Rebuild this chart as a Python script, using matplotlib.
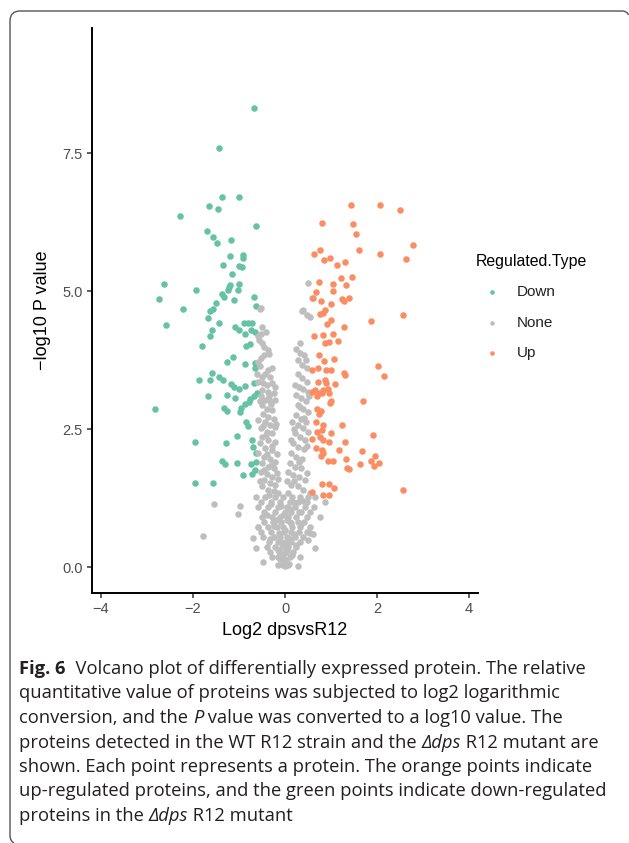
import matplotlib
matplotlib.use("Agg")
import matplotlib.pyplot as plt
from matplotlib.path import Path
from matplotlib.patches import PathPatch

# ---------------- data ----------------
categories = ["Down", "None", "Up"]
colors = {"Down": "#66C2A5", "None": "#BEBEBE", "Up": "#FC8D62"}

down_x = [-0.67, -1.43, -1.36, -1.01, -1.65, -1.46, -2.28, -0.62, -1.69, -1.56, -1.47, -1.18, -1.20,
          -0.92, -0.92, -1.35, -1.01, -0.94, -1.15, -2.63, -1.94, -1.20, -1.21, -1.01, -1.02, -1.24,
          -2.75, -1.37, -1.33, -1.11, -0.68, -0.63, -2.21, -1.51, -1.57, -1.62, -1.67, -2.58, -1.43,
          -1.58, -1.62, -1.09, -1.00, -0.89, -0.80, -0.71, -0.86, -0.74, -0.65,
          -1.80, -0.85, -0.76, -1.27, -1.12, -0.88, -0.65, -0.65, -1.87, -1.62, -1.59, -1.44, -1.35,
          -1.17, -1.10, -1.01, -0.88, -0.68, -1.67, -1.26, -1.09, -0.76, -0.79, -0.88, -0.95, -0.98,
          -0.67, -0.60, -2.82, -1.32, -1.27, -0.84, -0.80, -1.95, -1.28, -1.04, -0.72, -0.70, -0.62,
          -0.62, -1.38, -1.30, -1.04, -0.74, -0.65, -0.72, -0.91, -1.95, -1.57]
down_y = [8.31, 7.60, 6.71, 6.70, 6.54, 6.49, 6.36, 6.17, 6.09, 5.97, 5.87, 5.93, 5.64,
          5.65, 5.60, 5.47, 5.45, 5.43, 5.30, 5.13, 5.01, 5.11, 5.07, 5.13, 5.01, 5.02,
          4.86, 4.94, 4.90, 4.83, 4.90, 4.73, 4.67, 4.79, 4.67, 4.63, 4.51, 4.38, 4.42,
          4.30, 4.18, 4.35, 4.29, 4.43, 4.43, 4.42, 4.23, 4.29, 4.25,
          4.01, 4.01, 4.04, 3.71, 3.80, 3.68, 3.70, 3.61, 3.38, 3.39, 3.51, 3.44, 3.39,
          3.31, 3.27, 3.22, 3.28, 3.33, 3.10, 3.12, 3.07, 3.04, 2.99, 2.95, 2.89, 2.80,
          3.10, 3.16, 2.87, 2.89, 2.83, 2.62, 2.55, 2.26, 2.25, 2.38, 2.30, 2.18, 2.07,
          1.91, 1.92, 1.87, 1.88, 1.87, 1.75, 1.69, 1.66, 1.52, 1.53]

up_x = [1.43, 2.07, 2.51, 0.80, 1.47, 1.54, 2.78, 1.60, 0.62, 0.77, 2.06, 2.64, 0.84, 0.98,
        1.13, 1.30, 1.22, 1.46, 0.75, 1.05, 1.04, 1.33, 0.67, 0.61, 0.78, 1.00, 1.25, 1.28,
        1.39, 0.87, 0.83, 0.76, 1.01, 0.91, 1.88, 2.56, 1.28, 0.62, 0.83, 1.04, 0.88, 0.95,
        1.16, 0.74, 1.06, 0.84, 2.03, 2.15, 0.59, 0.71, 0.89, 1.00, 1.29, 1.31, 0.71, 0.88,
        0.89, 1.09, 0.59, 0.65, 0.73, 0.83, 0.93, 0.80, 0.69, 0.96, 1.01, 0.98, 1.70, 0.70,
        0.78, 0.75, 0.67, 0.83, 0.80, 0.70, 1.25, 1.00, 1.91, 0.59, 0.76, 0.83, 0.96, 1.30,
        0.67, 0.80, 0.83, 0.78, 1.18, 1.67, 1.96, 1.88, 2.05, 1.93, 0.93, 1.05, 1.33, 1.63,
        1.34, 1.40, 0.80, 0.96, 1.06, 0.59, 0.83, 0.96, 2.57]
up_y = [6.56, 6.56, 6.47, 6.24, 6.21, 6.04, 5.83, 5.75, 5.68, 5.74, 5.67, 5.58, 5.57, 5.60,
        5.48, 5.52, 5.24, 5.25, 5.17, 5.12, 5.00, 5.11, 4.99, 4.88, 4.82, 4.77, 4.86, 4.82,
        4.87, 4.66, 4.61, 4.59, 4.47, 4.41, 4.46, 4.56, 4.34, 4.19, 4.21, 4.22, 4.06, 4.08,
        4.09, 3.85, 3.76, 3.73, 3.64, 3.47, 3.57, 3.61, 3.57, 3.57, 3.52, 3.48, 3.36, 3.38,
        3.33, 3.31, 3.18, 3.21, 3.16, 3.21, 3.22, 3.15, 3.10, 3.15, 3.01, 2.97, 3.01, 2.87,
        2.83, 2.77, 2.62, 2.57, 2.48, 2.45, 2.58, 2.42, 2.39, 2.32, 2.36, 2.30, 2.27, 2.26,
        2.15, 2.12, 2.06, 2.01, 2.12, 2.10, 2.01, 1.93, 1.89, 1.83, 1.93, 1.93, 1.95, 1.87,
        1.79, 1.77, 1.50, 1.50, 1.43, 1.36, 1.30, 1.30, 1.39]

none_x = [
    # left arm
    -0.54, -0.52, -0.49, -0.42, -0.52, -0.58, -0.56, -0.49, -0.45, -0.38, -0.35, -0.45, -0.52,
    -0.58, -0.55, -0.38, -0.28, -0.58, -0.47, -0.40, -0.29, -0.22, -0.51, -0.36, -0.25, -0.52,
    -0.44, -0.33, -0.22, -0.49, -0.40, -0.29, -0.47, -0.36, -0.25, -0.58, -0.44, -0.33, -0.22,
    -0.52, -0.40, -0.29, -0.51, -0.36, -0.22, -0.54, -0.44, -0.29, -0.58, -0.45, -0.33, -0.22,
    -0.49, -0.38, -0.25, -0.52, -0.40, -0.29, -0.18, -0.45, -0.33, -0.22, -0.51, -0.38, -0.25,
    -0.15, -0.50, -0.43, -0.33, -0.55, -0.30, -0.42, -0.28, -0.40, -0.18, -0.30, -0.45, -0.15,
    -0.35, -0.55, -0.20, -0.48, -0.35, -0.60,
    # right arm
    0.38, 0.47, 0.40, 0.54, 0.51, 0.58, 0.33, 0.42, 0.29, 0.36, 0.47, 0.28, 0.36, 0.47, 0.30,
    0.40, 0.49, 0.25, 0.35, 0.45, 0.29, 0.40, 0.51, 0.23, 0.35, 0.45, 0.28, 0.40, 0.51, 0.22,
    0.33, 0.43, 0.18, 0.29, 0.42, 0.14, 0.25, 0.38, 0.11, 0.22, 0.35, 0.07, 0.18, 0.30, 0.43,
    0.04, 0.14, 0.28, 0.40, 0.54, 0.07, 0.32, 0.25, 0.45, 0.22, 0.33, 0.20, 0.47, 0.12, 0.30,
    0.48, 0.20, 0.52, 0.42, 0.16,
    # lower cluster
    -0.62, -0.44, -0.22, -0.04, 0.15, 0.33, 0.51, 0.65,
    -0.52, -0.30, -0.10, 0.10, 0.28, 0.48,
    -0.58, -0.36, -0.15, 0.04, 0.22, 0.44, 0.62,
    -0.45, -0.22, 0.00, 0.14, 0.35, 0.55,
    -0.51, -0.29, -0.11, 0.07, 0.25, 0.47,
    -0.45, -0.26, -0.08, 0.10, 0.28, 0.42,
    -0.58, -0.36, -0.18, -0.04, 0.15, 0.33, 0.54,
    -0.52, -0.30, -0.02, 0.12, 0.30, 0.48,
    -0.47, -0.25, -0.11, 0.04, 0.22, 0.40,
    -0.35, -0.15, 0.00, 0.14, 0.32,
    -0.40, -0.22, -0.07, 0.07, 0.25,
    -0.32, -0.12, 0.02, 0.18,
    -0.29, -0.15, -0.04, 0.11,
    -0.15, -0.04, 0.07,
    0.00, -0.05, 0.03, -0.02, 0.05, -0.08, 0.10, -0.12, 0.00, 0.12, -0.20, -0.05, 0.30, -0.30,
    0.18, 0.02, -0.15, 0.15, 0.08, -0.10, 0.20, -0.25, 0.35, -0.40, 0.40, -0.08, 0.25, -0.32,
    0.05, 0.10,
    # outliers
    -1.79, -1.54, -1.03, -0.98, -0.69, -0.62, -0.47, -0.58, 0.33, 0.28, 0.76, 0.87, 0.54, 0.50,
    0.60, 0.65]
none_y = [
    4.67, 4.69, 4.35, 4.26, 4.23, 4.19, 4.12, 4.06, 3.99, 3.93, 3.86, 3.84, 3.78,
    3.72, 3.64, 3.57, 3.60, 3.36, 3.33, 3.30, 3.34, 3.26, 3.21, 3.18, 3.15, 3.09,
    3.03, 3.00, 3.03, 2.94, 2.87, 2.84, 2.78, 2.72, 2.69, 2.66, 2.63, 2.57, 2.54,
    2.51, 2.45, 2.42, 2.36, 2.30, 2.27, 2.24, 2.15, 2.12, 2.06, 2.00, 1.95, 1.91,
    1.88, 1.82, 1.79, 1.73, 1.69, 1.64, 1.70, 1.58, 1.53, 1.49, 1.46, 1.40, 1.37,
    1.34, 3.45, 3.50, 3.44, 3.00, 2.95, 2.40, 2.20, 2.05, 2.05, 1.85, 1.75, 1.60,
    1.30, 1.55, 2.60, 2.55, 3.10, 3.50,
    4.63, 4.57, 4.66, 4.53, 5.14, 4.88, 3.87, 3.84, 3.75, 3.66, 3.60, 3.50, 3.42, 3.36, 3.26,
    3.22, 3.18, 3.12, 3.06, 3.00, 2.94, 2.87, 2.81, 2.75, 2.69, 2.63, 2.57, 2.51, 2.45, 2.42,
    2.36, 2.30, 2.24, 2.18, 2.13, 2.06, 2.00, 1.95, 1.88, 1.82, 1.79, 1.73, 1.67, 1.63, 1.58,
    1.55, 1.49, 1.46, 1.40, 1.34, 1.34, 4.05, 3.95, 3.75, 3.30, 2.90, 2.50, 2.20, 2.30, 1.90,
    1.70, 1.55, 3.10, 2.70, 2.62,
    1.27, 1.27, 1.27, 1.27, 1.27, 1.27, 1.27, 1.27,
    1.18, 1.18, 1.18, 1.18, 1.18, 1.18,
    1.09, 1.09, 1.09, 1.09, 1.09, 1.09, 1.09,
    1.00, 1.00, 1.00, 1.00, 1.00, 1.00,
    0.91, 0.91, 0.91, 0.91, 0.91, 0.91,
    0.82, 0.82, 0.82, 0.82, 0.82, 0.82,
    0.73, 0.73, 0.73, 0.73, 0.73, 0.73, 0.73,
    0.64, 0.64, 0.64, 0.64, 0.64, 0.64,
    0.55, 0.55, 0.55, 0.55, 0.55, 0.55,
    0.46, 0.46, 0.46, 0.46, 0.46,
    0.37, 0.37, 0.37, 0.37, 0.37,
    0.28, 0.28, 0.28, 0.28,
    0.19, 0.19, 0.19, 0.19,
    0.04, 0.04, 0.04,
    0.02, 0.08, 0.12, 0.25, 0.30, 0.45, 0.50, 0.62, 0.68, 0.80, 0.85, 0.95, 1.00, 1.15,
    1.18, 0.40, 0.30, 0.22, 0.05, 0.15, 0.60, 0.75, 0.78, 0.95, 1.20, 1.10, 0.40, 0.50,
    0.85, 1.05,
    0.57, 1.14, 0.97, 1.11, 0.52, 0.34, 0.10, 0.72, 0.19, 0.02, 0.91, 1.18, 0.62, 0.49,
    0.60, 0.35]

x_ticks = [-4, -2, 0, 2, 4]
y_ticks = [0.0, 2.5, 5.0, 7.5]
y_ticklabels = ["0.0", "2.5", "5.0", "7.5"]
x_ticklabels = ["\u22124", "\u22122", "0", "2", "4"]

# ---------------- figure ----------------
W, H = 629, 843
fig = plt.figure(figsize=(W / 100, H / 100), dpi=100)
fig.patch.set_facecolor("white")

def fx(px):
    return px / W

def fy(py):
    return 1 - py / H

ax_l, ax_r, ax_t, ax_b = 92, 478, 28, 593
ax = fig.add_axes([fx(ax_l), fy(ax_b), (ax_r - ax_l) / W, (ax_b - ax_t) / H])

series = {"Down": (down_x, down_y), "None": (none_x, none_y), "Up": (up_x, up_y)}
handles = []
for cat in categories:
    xs, ys = series[cat]
    sc = ax.scatter(xs, ys, s=22, color=colors[cat], linewidths=0, label=cat, zorder=2)
    handles.append(sc)

ax.set_xlim(-4.196, 4.196)
ax.set_ylim(-0.47, 9.765)
for side in ["top", "right"]:
    ax.spines[side].set_visible(False)
for side in ["left", "bottom"]:
    ax.spines[side].set_linewidth(1.4)
    ax.spines[side].set_color("black")
ax.set_xticks(x_ticks)
ax.set_xticklabels(x_ticklabels)
ax.set_yticks(y_ticks)
ax.set_yticklabels(y_ticklabels)
chart_font = "Liberation Sans"
ax.tick_params(axis="both", length=3.5, width=1.1, color="#333333", labelcolor="#4D4D4D",
               labelsize=10.5, pad=3)
for lbl in ax.get_xticklabels() + ax.get_yticklabels():
    lbl.set_fontfamily(chart_font)
ax.set_xlabel("Log2 dpsvsR12", fontsize=13, family=chart_font, color="black", labelpad=4)
ax.set_ylabel("\u2212log10 P value", fontsize=13, family=chart_font, color="black", labelpad=8)

leg = ax.legend(handles=handles, labels=categories, title="Regulated.Type",
                loc="upper left", bbox_to_anchor=(fx(476), fy(254)),
                bbox_transform=fig.transFigure, frameon=False, borderpad=0,
                borderaxespad=0,
                handlelength=2.1, handletextpad=0.55, labelspacing=1.08,
                markerscale=0.7, alignment="left",
                prop={"family": chart_font, "size": 11},
                title_fontproperties={"family": chart_font, "size": 11.4})
for t in leg.get_texts():
    t.set_color("#222222")

# ---------------- frame ----------------
verts = [(fx(14), fy(843)), (fx(10), fy(841)), (fx(10), fy(835)),
         (fx(10), fy(21)),
         (fx(10), fy(11)), (fx(20), fy(11)),
         (fx(622), fy(11)),
         (fx(627), fy(11)), (fx(628.5), fy(15))]
codes = [Path.MOVETO, Path.CURVE3, Path.CURVE3, Path.LINETO, Path.CURVE3, Path.CURVE3,
         Path.LINETO, Path.CURVE3, Path.CURVE3]
frame = PathPatch(Path(verts, codes), transform=fig.transFigure, facecolor="none",
                  edgecolor="#555555", linewidth=1.0)
fig.add_artist(frame)

# ---------------- caption ----------------
cap_font = "Open Sans"
cap_size = 13.2
lines = [
    [("Fig. 6", "bold"), ("  Volcano plot of differentially expressed protein. The relative", "normal")],
    [("quantitative value of proteins was subjected to log2 logarithmic", "normal")],
    [("conversion, and the ", "normal"), ("P", "italic"), (" value was converted to a log10 value. The", "normal")],
    [("proteins detected in the WT R12 strain and the ", "normal"), ("\u0394dps", "italic"), (" R12 mutant are", "normal")],
    [("shown. Each point represents a protein. The orange points indicate", "normal")],
    [("up-regulated proteins, and the green points indicate down-regulated", "normal")],
    [("proteins in the ", "normal"), ("\u0394dps", "italic"), (" R12 mutant", "normal")],
]
base0, step = 674, 24.5
for i, segs in enumerate(lines):
    last = None
    for txt, style in segs:
        kw = dict(fontsize=cap_size, family=cap_font, color="#231F20",
                  fontweight="bold" if style == "bold" else "normal",
                  fontstyle="italic" if style == "italic" else "normal")
        if last is None:
            last = fig.text(fx(19), fy(base0 + i * step), txt, va="baseline", ha="left", **kw)
        else:
            last = fig.add_artist(plt.Annotation(txt, xy=(1, 0), xycoords=last,
                                                 va="bottom", ha="left", **kw))

fig.savefig("out.png", dpi=100, facecolor="white")
